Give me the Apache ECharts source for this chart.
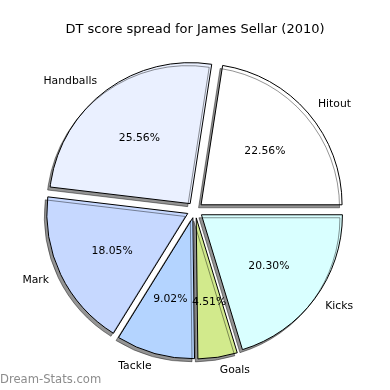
<!DOCTYPE html>
<html><head><meta charset="utf-8">
<script src="https://cdn.jsdelivr.net/npm/echarts@6/dist/echarts.min.js"></script>
<style>html,body{margin:0;padding:0;background:#fff}#c{width:390px;height:390px}</style>
</head><body><div id="c"></div>
<script>
const categories = ['Hitout', 'Handballs', 'Mark', 'Tackle', 'Goals', 'Kicks'];
const values = [30, 34, 24, 12, 6, 27];
const colors = ['#ffffff', '#eaf0ff', '#c6d8ff', '#b4d4ff', '#d2ea8c', '#d9ffff'];
const titleText = 'DT score spread for James Sellar (2010)';
const watermark = 'Dream-Stats.com';

const total = values.reduce((a, b) => a + b, 0);
const font = 'DejaVu Sans';
const C = [195, 210];
const R = 141;
const OFF = 8;

const mainData = categories.map((c, i) => ({
  name: c, value: values[i], selected: true,
  itemStyle: { color: colors[i] }
}));
const labelData = categories.map((c, i) => ({
  name: c, value: values[i]
}));

const chart = echarts.init(document.getElementById('c'), null, { renderer: 'canvas' });
chart.setOption({
  animation: false,
  backgroundColor: '#ffffff',
  title: {
    text: titleText, left: 'center', top: 18,
    textStyle: { fontFamily: font, fontSize: 13, fontWeight: 'normal', color: '#000' }
  },
  graphic: [{
    type: 'text', left: 0, top: 374,
    style: { text: watermark, fontFamily: font, fontSize: 11.6, fill: '#8c8c8c' }
  }],
  series: [{
    type: 'pie',
    center: C, radius: [0, R],
    startAngle: 0, clockwise: false,
    selectedMode: 'multiple', selectedOffset: OFF,
    avoidLabelOverlap: false,
    itemStyle: {
      borderColor: '#000', borderWidth: 1,
      shadowColor: 'rgba(0,0,0,0.42)', shadowBlur: 0.5, shadowOffsetX: -2.5, shadowOffsetY: 3
    },
    emphasis: { disabled: true },
    label: {
      show: true, position: 'outside', fontFamily: font, fontSize: 10.8, color: '#000',
      distanceToLabelLine: 0, offset: [0, 1]
    },
    labelLine: { show: false, length: 13, length2: 0 },
    data: mainData
  }, {
    type: 'pie',
    center: C, radius: [0, 178],
    startAngle: 0, clockwise: false,
    selectedMode: false,
    silent: true, z: 5,
    itemStyle: { color: 'rgba(0,0,0,0)', borderWidth: 0 },
    emphasis: { disabled: true },
    label: {
      show: true, position: 'inside', fontFamily: font, fontSize: 10.8, color: '#000',
      offset: [0, 1],
      formatter: p => (p.value / total * 100).toFixed(2) + '%'
    },
    labelLine: { show: false },
    data: labelData
  }]
});
</script></body></html>
